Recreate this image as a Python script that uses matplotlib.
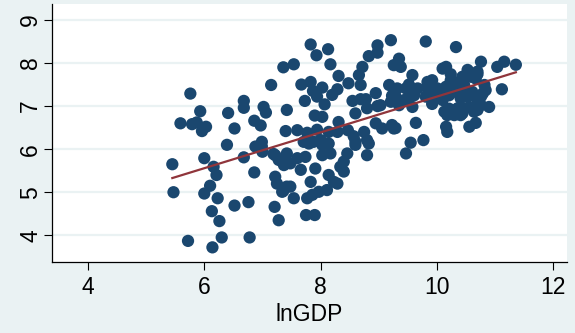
import numpy as np
import matplotlib.pyplot as plt

# scatter points (lnGDP, outcome)
ln_gdp = [
    5.47, 5.45, 5.76, 5.59, 5.79, 5.93, 5.96, 6.03, 5.87, 6.41, 6.52, 6.68, 6.68, 6.39, 6.00, 6.16,
    6.86, 6.97, 7.02, 7.06, 7.15, 7.36, 7.42, 7.40, 6.88, 6.99, 7.00, 6.68, 7.19, 7.28, 6.86,
    6.00, 6.10, 6.21, 6.23, 6.13, 6.26, 6.30, 6.14, 5.72, 6.52, 6.76, 6.78, 7.21, 7.28, 7.22,
    7.25, 7.36, 7.42, 7.37,
    7.83, 7.93, 8.13, 8.17, 7.54, 7.67, 7.83, 7.87, 8.03, 7.94, 7.73, 8.07, 8.20, 8.29, 8.31,
    8.48, 7.90, 8.03, 7.60, 7.77, 7.94, 8.31, 8.29, 8.47, 8.60, 8.80, 8.57, 8.75,
    8.55, 8.69, 8.78, 8.60, 8.80, 8.98, 8.66, 8.69, 8.72, 8.83, 8.98, 8.98, 9.21, 8.95, 9.18,
    9.23, 8.95, 9.06, 9.23,
    9.32, 9.26, 9.35, 9.38, 9.29, 9.44, 9.61, 9.58, 9.26, 9.03, 9.21, 9.58, 9.64, 9.55, 9.47,
    9.77, 9.81,
    9.84, 9.92, 10.01, 9.67, 9.92, 10.10, 10.21, 10.10, 10.16, 10.24, 10.24, 10.33, 10.38,
    10.44, 10.53, 10.59, 10.70, 10.33, 10.44, 10.41, 10.53, 10.13, 10.21, 10.18, 10.16, 10.18,
    10.36, 10.44, 10.56, 10.64, 10.70, 10.76, 10.56, 10.67, 10.76, 10.82, 10.84, 10.76, 10.90,
    11.04, 11.16, 11.36, 11.12, 9.58, 9.52, 9.47, 9.84, 9.84, 10.04, 10.16, 10.30, 10.47,
    10.61, 10.79, 9.52, 9.35, 9.81, 9.95, 10.30, 10.41, 10.47, 10.70, 10.70, 10.67, 9.29,
    7.80, 8.03, 8.14, 8.17, 8.03, 8.60, 8.83, 8.80, 8.46, 8.40, 8.34, 8.40, 7.22, 7.42, 7.40,
    7.48, 7.60, 7.74, 7.66, 7.91, 7.34, 7.48, 7.54, 7.83, 8.14, 8.23, 8.29, 8.11, 7.97, 7.86,
    7.77, 7.75, 7.90, 7.71, 7.88, 8.00, 8.09, 8.14, 6.99,
]
outcome = [
    5.00, 5.65, 7.29, 6.60, 6.58, 6.88, 6.42, 6.52, 6.62, 6.84, 6.48, 7.12, 6.96, 6.10, 5.79, 5.59,
    6.66, 6.55, 6.98, 6.85, 7.49, 7.90, 6.91, 6.42, 6.06, 6.06, 5.94, 5.81, 5.89, 5.75, 5.46,
    4.97, 5.15, 5.40, 4.86, 4.56, 4.33, 3.95, 3.72, 3.87, 4.69, 4.77, 3.95, 4.66, 4.35, 5.36,
    5.20, 5.03, 5.13, 5.63,
    8.43, 8.18, 8.32, 7.97, 7.97, 7.50, 7.56, 7.35, 7.43, 7.22, 7.12, 7.04, 7.26, 7.39, 7.70,
    7.53, 6.78, 6.75, 6.44, 6.38, 6.45, 6.63, 6.40, 6.44, 6.17, 6.21, 6.30, 6.40,
    7.12, 7.16, 7.16, 6.83, 6.95, 7.00, 7.72, 7.49, 7.91, 8.16, 8.24, 8.41, 8.53, 7.30, 7.49,
    7.24, 6.60, 6.48, 6.56,
    7.41, 7.95, 8.10, 7.91, 7.22, 7.14, 7.25, 7.37, 6.48, 7.02, 7.10, 6.98, 6.61, 6.15, 5.90,
    6.21, 8.50,
    7.56, 7.60, 7.41, 7.41, 7.05, 7.14, 7.25, 7.87, 7.91, 7.74, 7.60, 8.37, 7.56,
    7.68, 7.84, 7.68, 7.74, 7.33, 7.37, 7.18, 7.22, 6.87, 6.94, 6.79, 6.52, 6.40,
    6.95, 6.83, 6.98, 6.87, 7.14, 7.02, 6.52, 6.61, 8.03, 7.49, 7.37, 7.22, 6.98,
    7.91, 8.03, 7.96, 7.39, 7.72, 7.50, 7.41, 7.45, 7.25, 7.37, 7.45, 7.37, 7.49,
    7.33, 7.29, 7.22, 7.02, 7.22, 7.25, 6.79, 6.79, 6.94, 6.91, 7.80, 7.64, 6.49,
    6.13, 6.10, 6.13, 5.90, 5.86, 6.10, 6.13, 5.86, 5.90, 5.71, 5.59, 5.48, 5.86, 5.90, 5.67,
    5.67, 5.79, 5.82, 5.52, 5.55, 5.01, 5.13, 4.86, 5.24, 5.40, 5.24, 5.20, 5.05, 5.01, 4.94,
    4.86, 4.47, 4.47, 6.17, 6.17, 6.21, 6.13, 6.40, 6.17,
]

x_ticks = [4, 6, 8, 10, 12]
y_ticks = [4, 5, 6, 7, 8, 9]
x_label = "lnGDP"

navy = "#1a476f"
maroon = "#90353b"
bg = "#eaf2f3"

plt.rcParams['font.family'] = ['Liberation Sans', 'DejaVu Sans']

fig = plt.figure(figsize=(5.75, 3.33), dpi=100, facecolor=bg)
ax = fig.add_axes([52 / 575, 1 - 262 / 333, (567 - 52) / 575, (262 - 4) / 333])
ax.set_facecolor("white")

x = np.array(ln_gdp)
y = np.array(outcome)

# horizontal grid only, Stata style
for yt in y_ticks:
    ax.axhline(yt, color=bg, lw=1.6, zorder=0)

ax.scatter(x, y, s=78, color=navy, edgecolors="none", zorder=2)

# linear fit
b, a = np.polyfit(x, y, 1)
xs = np.array([x.min(), x.max()])
ax.plot(xs, a + b * xs, color=maroon, lw=1.6, zorder=3)

ax.set_xlim(3.38, 12.24)
ax.set_ylim(3.38, 9.37)
ax.set_xticks(x_ticks)
ax.set_yticks(y_ticks)
ax.tick_params(axis="both", direction="out", length=6, width=0.8, labelsize=16.5,
               color="black")
ax.tick_params(axis="x", pad=4)
ax.tick_params(axis="y", labelrotation=90, pad=1)
for lbl in ax.get_yticklabels():
    lbl.set_va("center")
ax.set_xlabel(x_label, fontsize=16.5, labelpad=3)

for side in ["top", "right"]:
    ax.spines[side].set_visible(False)
for side in ["left", "bottom"]:
    ax.spines[side].set_linewidth(0.9)

fig.savefig("out.png", dpi=100, facecolor=bg)
